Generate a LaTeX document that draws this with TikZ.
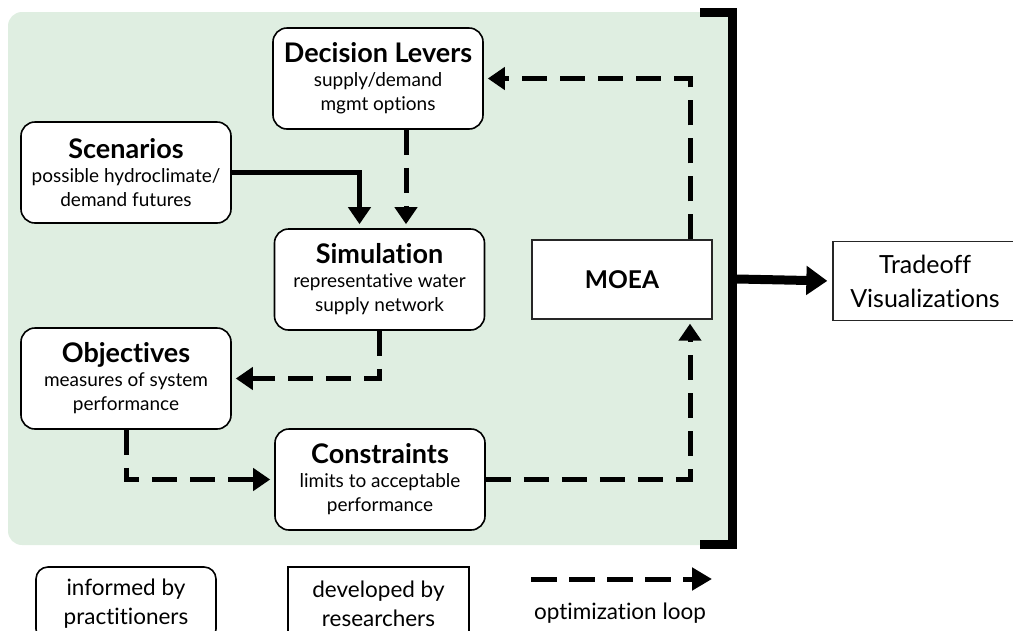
\documentclass[tikz,border=0pt]{standalone}
\usepackage{fontspec}
\setmainfont{Lato}[Ligatures=NoCommon]
\usetikzlibrary{arrows.meta}
\definecolor{bggreen}{RGB}{223,238,225}
\newcommand{\ttlfont}{\fontsize{27}{25}\selectfont\bfseries}
\begin{document}
\begin{tikzpicture}[x=1pt,y=-1pt,
  pbox/.style={draw=black, line width=1.6pt, rounded corners=14pt, fill=white,
    minimum width=210pt, minimum height=101pt, align=center, inner sep=0pt,
    font=\fontsize{19}{24}\selectfont},
  rbox/.style={draw=black!85, line width=1.3pt, fill=white, align=center, inner sep=0pt},
  loopline/.style={line width=5pt, dash pattern=on 25pt off 13pt, miter limit=10,
    -{Triangle[width=22pt,length=17pt]}, shorten >=4pt},
  solidarrow/.style={line width=5pt, -{Triangle[width=22pt,length=17pt]}, shorten >=4pt},
]
\useasboundingbox (0,0) rectangle (1013,630);
\clip (0,0) rectangle (1013,630);
% background panel
\fill[bggreen, rounded corners=14pt] (8,12) rectangle (760,545);
\fill[white] (730,0) rectangle (1013,630);
% bracket
\draw[line width=9pt, miter limit=10] (700,12.5) -- (732.5,12.5) -- (732.5,544) -- (700,544);
\coordinate (BR) at (737,279);

% nodes
\node[pbox] (DL) at (378,78.5) {{\ttlfont Decision Levers}\\ supply/demand\\ mgmt options};
\node[pbox] (SC) at (126,172.5) {{\ttlfont Scenarios}\\ possible hydroclimate/\\ demand futures};
\node[pbox] (SIM) at (379.5,279.5) {{\ttlfont Simulation}\\ representative water\\ supply network};
\node[pbox] (OBJ) at (126,378.5) {{\ttlfont Objectives}\\ measures of system\\ performance};
\node[pbox] (CON) at (380,479.5) {{\ttlfont Constraints}\\ limits to acceptable\\ performance};
\node[rbox, minimum width=180pt, minimum height=79pt, font=\fontsize{24.5}{26}\selectfont\bfseries] (MOEA) at (622,279.5) {MOEA};
\node[rbox, minimum width=184pt, minimum height=79pt, font=\fontsize{25}{34}\selectfont] (TV) at (925,281) {Tradeoff\\ Visualizations};

% connectors
\draw[solidarrow] (SC.east) -| ([xshift=-20pt]SIM.north);
\draw[loopline] ([xshift=28pt]DL.south) -- ([xshift=28pt]DL.south |- SIM.north);
\draw[loopline] ([xshift=68pt]MOEA.north) |- (DL.east);
\draw[loopline] (SIM.south) |- (OBJ.east);
\draw[loopline] (OBJ.south) |- (CON.west);
\draw[loopline] (CON.east) -| ([xshift=68pt]MOEA.south);
\draw[line width=9pt, -{Triangle[width=28pt,length=21pt]}, shorten >=5pt] (BR) -- (TV.west);

% legend
\node[draw=black, line width=1.6pt, rounded corners=12pt, minimum width=180pt, minimum height=74pt,
  align=center, inner sep=0pt, font=\fontsize{22.5}{29}\selectfont] (LP) at (126,604) {informed by\\ practitioners};
\node[rbox, draw=black, minimum width=181pt, minimum height=74pt, font=\fontsize{22.5}{29}\selectfont] (LR) at (378.5,604) {developed by\\ researchers};
\coordinate (LA1) at (531,579);
\coordinate (LA2) at (712,579);
\draw[line width=5pt, dash pattern=on 26pt off 12pt, -{Triangle[width=22pt,length=20pt]}] (LA1) -- (LA2);
\node[font=\fontsize{22.5}{24}\selectfont, anchor=base] (LL) at (620,619) {optimization loop};
\end{tikzpicture}
\end{document}
